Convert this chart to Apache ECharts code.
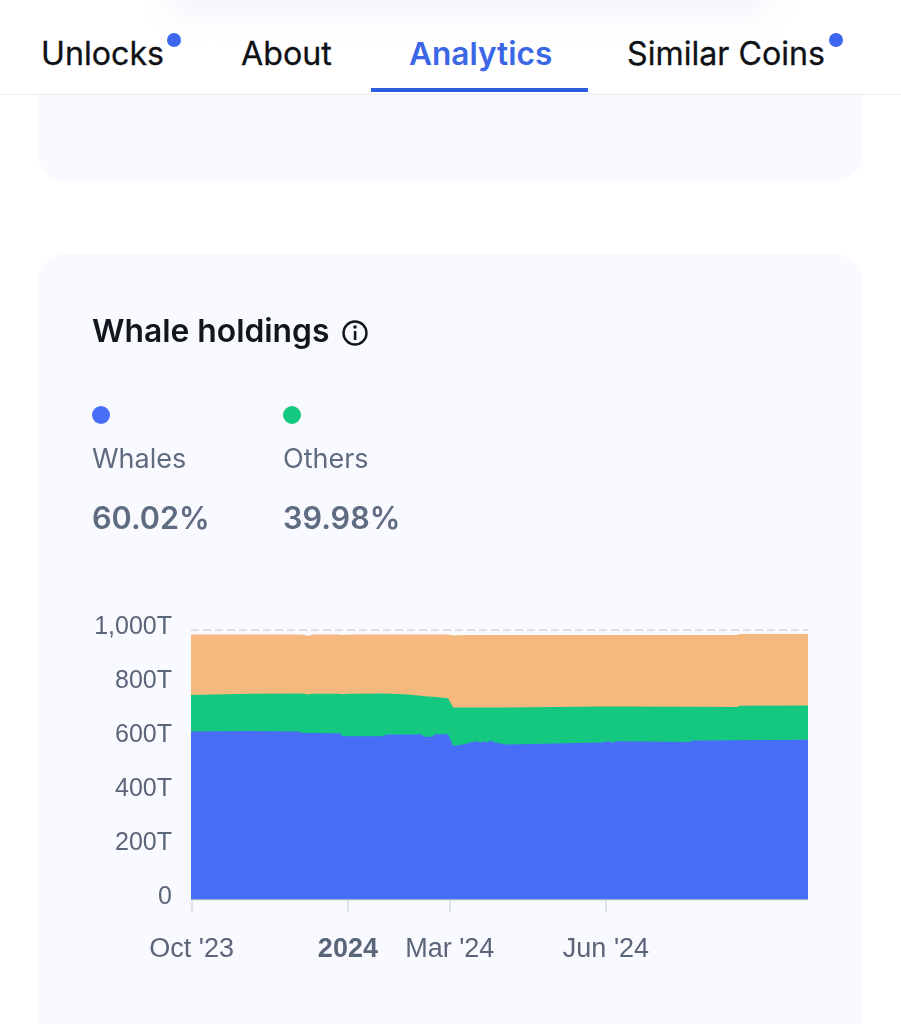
<!DOCTYPE html>
<html>
<head>
<meta charset="utf-8">
<script src="https://cdn.jsdelivr.net/npm/echarts@6/dist/echarts.min.js"></script>
<style>
html,body{margin:0;padding:0;background:#fff;width:901px;height:1024px;overflow:hidden;font-family:Inter,sans-serif}
.abs{position:absolute}
#haze{left:170px;top:-26px;width:600px;height:36px;background:#eef0fa;filter:blur(18px);border-radius:30px}
#bar{left:0;top:94px;width:901px;height:1px;background:#eceef2}
.card{position:absolute;left:37px;width:826px;background:#f9faff;border-radius:28px}
#c1{top:60px;height:121px}
#c2{top:254px;height:860px}
#tabs{left:0;top:0;width:901px;height:94px;background:#fff;overflow:hidden}
.tab{position:absolute;top:35px;font-size:32.2px;line-height:38px;font-weight:400;color:#0e1116;white-space:nowrap;-webkit-text-stroke:0.3px #0e1116}
.dot{position:absolute;width:14px;height:14px;border-radius:50%;background:#3c66ef}
#ul{left:371px;top:88px;width:217px;height:4px;background:#2f5de0}
#chart{left:0;top:0;width:901px;height:1024px}
</style>
</head>
<body>
<div class="card" id="c1"></div>
<div class="card" id="c2"></div>
<div class="abs" id="tabs">
  <div class="abs" id="haze"></div>
  <div class="tab" style="left:41px">Unlocks</div>
  <div class="dot" style="left:167px;top:33px"></div>
  <div class="tab" style="left:241px">About</div>
  <div class="tab" style="left:409px;color:#3b66e6;-webkit-text-stroke:0;font-weight:600;font-size:31.6px">Analytics</div>
  <div class="tab" style="left:627px">Similar Coins</div>
  <div class="dot" style="left:829px;top:33px"></div>
  <div class="abs" id="ul"></div>
</div>
<div class="abs" id="bar"></div>
<div class="abs" id="chart"></div>
<script>
const dates = ['2023-09-30','2023-11-04','2023-12-03','2023-12-05','2023-12-09','2023-12-11','2023-12-27','2023-12-29','2023-12-30','2024-01-01','2024-01-21','2024-01-24','2024-02-06','2024-02-07','2024-02-08','2024-02-13','2024-02-15','2024-02-20','2024-02-21','2024-02-29','2024-03-03','2024-03-10','2024-03-14','2024-03-17','2024-03-19','2024-03-21','2024-03-23','2024-03-25','2024-03-28','2024-04-03','2024-04-18','2024-04-19','2024-05-29','2024-05-30','2024-06-03','2024-06-05','2024-06-07','2024-06-10','2024-06-11','2024-07-20','2024-07-22','2024-08-17','2024-08-19','2024-09-28'];
const whales = [623,625,623,618,618,618,617,606,606,606,606,612,612,606,612,613,604,604,613,613,570,576,584,587,583,587,583,590,583,575,577,583,583,587,587,582,587,587,581,584,590,591,591,593];
const others = [136,138,141,146,143,145,146,156,154,157,158,152,149,154,147,143,150,148,138,134,142,136,128,125,129,125,129,122,129,137,136,130,133,129,129,134,129,129,135,131,125,123,128,127];
const rest   = [224,220,219,219,217,220,220,219,218,220,219,219,222,223,224,227,229,231,232,236,268,269,269,269,269,269,269,269,269,269,268,268,265,265,265,265,265,265,265,266,266,267,266,265];
const xTicks = ['2023-10-01','2024-01-01','2024-03-01','2024-06-01'];
const xLabels = ["Oct '23",'2024',"Mar '24","Jun '24"];
const yTicks = [0,200,400,600,800,1000];
const yLabels = ['0','200T','400T','600T','800T','1,000T'];
const legendNames = ['Whales','Others'];
const legendValues = ['60.02%','39.98%'];
const colors = ['#486ef7','#14c880','#f5b87f'];

const ts = d => new Date(d + 'T00:00:00Z').getTime();
const tickTimes = xTicks.map(ts);
// Cumulative tops of the stacked layers; layers are painted back to front.
const topWhales = whales;
const topOthers = whales.map((v,i) => v + others[i]);
const topRest = topOthers.map((v,i) => v + rest[i]);
const pair = arr => dates.map((d,i) => [ts(d), arr[i]]);
const mkSeries = (name, arr, color, z) => ({
  name, type:'line', data:pair(arr), showSymbol:false, symbol:'none', z, clip:true,
  lineStyle:{width:0}, areaStyle:{color, opacity:1, origin:'start'}, itemStyle:{color}, silent:true, animation:false
});
const legendText = (i, x) => ([
  {type:'circle', shape:{cx:x+9, cy:415, r:9}, style:{fill:colors[i]}},
  {type:'text', x, y:459.5, style:{text:legendNames[i], fill:'#5f6b80', font:'400 27px Inter', verticalAlign:'middle'}},
  {type:'text', x, y:519.5, style:{text:legendValues[i], fill:'#5f6b80', font:'600 30.6px Inter', verticalAlign:'middle'}}
]);

const chart = echarts.init(document.getElementById('chart'), null, {renderer:'canvas', width:901, height:1024});
chart.setOption({
  animation:false,
  backgroundColor:'transparent',
  title:{text:'Whale holdings', left:92, top:314, padding:0,
    textStyle:{fontFamily:'Inter', fontSize:31.8, fontWeight:600, color:'#12161d', lineHeight:36}},
  grid:{left:191, top:630, width:617, height:269.5, containLabel:false},
  xAxis:{
    type:'value',
    min:ts('2023-09-30') + 14*3600*1000,
    max:ts('2024-09-28'),
    axisLine:{show:true, lineStyle:{color:'#e3e6eb', width:2}},
    axisTick:{show:true, length:13, lineStyle:{color:'#dfe2e7', width:2}, customValues:tickTimes},
    splitLine:{show:false},
    axisLabel:{
      show:true, margin:37, hideOverlap:false,
      customValues:tickTimes,
      fontFamily:'"Liberation Sans"', fontSize:27, color:'#5b6579',
      formatter:v => {
        const i = tickTimes.indexOf(v);
        const s = i >= 0 ? xLabels[i] : '';
        return s === '2024' ? '{b|' + s + '}' : s;
      },
      rich:{b:{fontFamily:'"Liberation Sans"', fontSize:27, fontWeight:700, color:'#5b6579'}}
    }
  },
  yAxis:{
    type:'value', min:0, max:1000, interval:200,
    axisLine:{show:false}, axisTick:{show:false},
    splitLine:{show:true, lineStyle:{type:'dashed', color:'#dcdfe5', width:2}},
    axisLabel:{
      margin:19, fontFamily:'"Liberation Sans"', fontSize:25, color:'#5b6579',
      verticalAlign:'bottom', lineHeight:5,
      formatter:v => yLabels[yTicks.indexOf(v)]
    }
  },
  series:[
    mkSeries('Rest', topRest, colors[2], 2),
    mkSeries('Others', topOthers, colors[1], 3),
    mkSeries('Whales', topWhales, colors[0], 4)
  ],
  graphic:{elements:[
    {type:'circle', shape:{cx:355, cy:333, r:11.5}, style:{fill:'none', stroke:'#12161d', lineWidth:2.4}},
    {type:'rect', shape:{x:353.8, y:331, width:2.6, height:9}, style:{fill:'#12161d'}},
    {type:'circle', shape:{cx:355, cy:327, r:1.8}, style:{fill:'#12161d'}},
    ...legendText(0, 92),
    ...legendText(1, 283)
  ]}
});
</script>
</body>
</html>
